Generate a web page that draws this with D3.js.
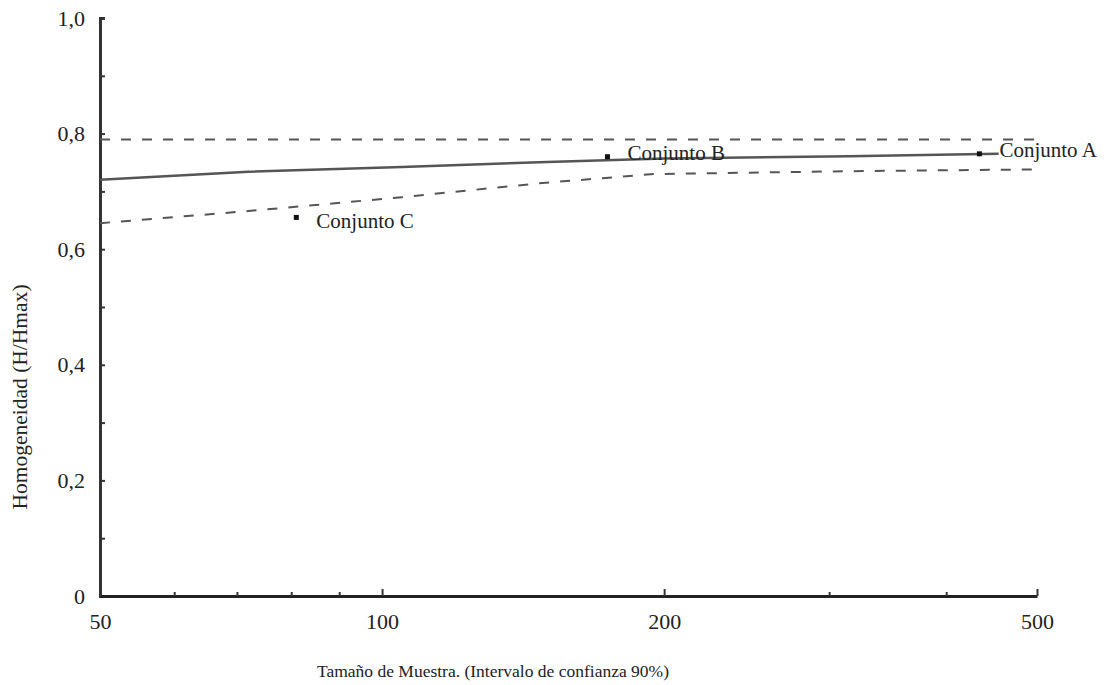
<!DOCTYPE html>
<html>
<head>
<meta charset="utf-8">
<script src="https://cdn.jsdelivr.net/npm/d3@7"></script>
<style>
  body { margin: 0; background: #fff; }
  text { font-family: "Liberation Serif", "DejaVu Serif", serif; fill: #222; }
</style>
</head>
<body>
<script>
// sample sizes (log axis) and homogeneity values
var meanN = [50, 72, 105, 150, 200, 315, 455];
var meanH = [0.720, 0.734, 0.742, 0.751, 0.757, 0.761, 0.765];
var upperN = [50, 500];
var upperH = [0.79, 0.79];
var lowerN = [50, 72, 105, 147, 195, 315, 500];
var lowerH = [0.645, 0.666, 0.690, 0.714, 0.730, 0.735, 0.738];
var setNames = ["Conjunto A", "Conjunto B", "Conjunto C"];
var setN = [434, 174, 81];
var setH = [0.765, 0.760, 0.655];
var xTickLabels = [50, 100, 200, 500];
var xMinorTicks = [60, 70, 80, 90, 300, 400];
var yTickLabels = [0, 0.2, 0.4, 0.6, 0.8, 1.0];
var yMinorTicks = [0.1, 0.3, 0.5, 0.7, 0.9];

(function() {
    var w = 1108;
    var h = 685;
    var left = 100, right = 1037, top = 18, bottom = 596;

    var svg = d3.select("body").append("svg")
        .attr("width", w)
        .attr("height", h);

    var x = d3.scaleLog().domain([50, 500]).range([left, right]);
    var y = d3.scaleLinear().domain([0, 1]).range([bottom, top]);

    var comma = function(d) { return d === 0 ? "0" : d3.format(".1f")(d).replace(".", ","); };

    // y axis, ticks pointing into the plot
    var yAxis = d3.axisLeft(y)
        .tickValues(yTickLabels.concat(yMinorTicks))
        .tickSize(-5)
        .tickPadding(15)
        .tickFormat(function(d) { return yTickLabels.indexOf(d) >= 0 ? comma(d) : ""; });
    var gy = svg.append("g")
        .attr("transform", "translate(" + left + ",0)")
        .call(yAxis);
    gy.select(".domain").attr("stroke", "#333").attr("stroke-width", 3);
    gy.selectAll(".tick line").attr("stroke", "#333").attr("stroke-width", 2);
    gy.selectAll(".tick text").attr("font-size", 22).attr("fill", "#222")
        .attr("font-family", "Liberation Serif");

    // x axis (log), ticks pointing up
    var xAxis = d3.axisBottom(x)
        .tickValues(xTickLabels.concat(xMinorTicks))
        .tickSize(0)
        .tickPadding(17)
        .tickFormat(function(d) { return xTickLabels.indexOf(d) >= 0 ? d : ""; });
    var gx = svg.append("g")
        .attr("transform", "translate(0," + bottom + ")")
        .call(xAxis);
    gx.select(".domain").attr("stroke", "#222").attr("stroke-width", 3);
    gx.selectAll(".tick line")
        .attr("stroke", "#333")
        .attr("stroke-width", 2)
        .attr("y2", function(d) { return xTickLabels.indexOf(d) >= 0 ? -7 : -4; });
    gx.selectAll(".tick text").attr("font-size", 22).attr("fill", "#222")
        .attr("font-family", "Liberation Serif");

    // curves
    var line = d3.line()
        .x(function(d) { return x(d[0]); })
        .y(function(d) { return y(d[1]); });

    var curves = [
        { n: upperN, v: upperH, dash: "10,11", sw: 2, col: "#555" },
        { n: meanN, v: meanH, dash: null, sw: 2.5, col: "#555" },
        { n: lowerN, v: lowerH, dash: "10,11", sw: 2, col: "#555" }
    ];

    svg.selectAll("path.curve")
        .data(curves)
        .enter()
        .append("path")
        .attr("class", "curve")
        .attr("fill", "none")
        .attr("stroke", function(d) { return d.col; })
        .attr("stroke-width", function(d) { return d.sw; })
        .attr("stroke-dasharray", function(d) { return d.dash; })
        .attr("d", function(d) { return line(d3.zip(d.n, d.v)); });

    // sample points and labels
    var pts = setNames.map(function(name, i) { return { name: name, n: setN[i], v: setH[i] }; });

    svg.selectAll("rect.pt")
        .data(pts)
        .enter()
        .append("rect")
        .attr("class", "pt")
        .attr("x", function(d) { return x(d.n) - 2.5; })
        .attr("y", function(d) { return y(d.v) - 2.5; })
        .attr("width", 5)
        .attr("height", 5)
        .attr("fill", "#111");

    svg.selectAll("text.lbl")
        .data(pts)
        .enter()
        .append("text")
        .attr("class", "lbl")
        .attr("x", function(d) { return x(d.n) + 20; })
        .attr("y", function(d) { return y(d.v) + (d.name === "Conjunto C" ? 3 : -4); })
        .attr("dy", "0.35em")
        .attr("font-size", 21)
        .text(function(d) { return d.name; });

    // axis titles
    svg.append("text")
        .attr("x", 493)
        .attr("y", 677)
        .attr("text-anchor", "middle")
        .attr("font-size", 17.5)
        .text("Tamaño de Muestra. (Intervalo de confianza 90%)");

    svg.append("text")
        .attr("transform", "translate(27,397) rotate(-90)")
        .attr("text-anchor", "middle")
        .attr("font-size", 21.5)
        .text("Homogeneidad (H/Hmax)");
})();
</script>
</body>
</html>
